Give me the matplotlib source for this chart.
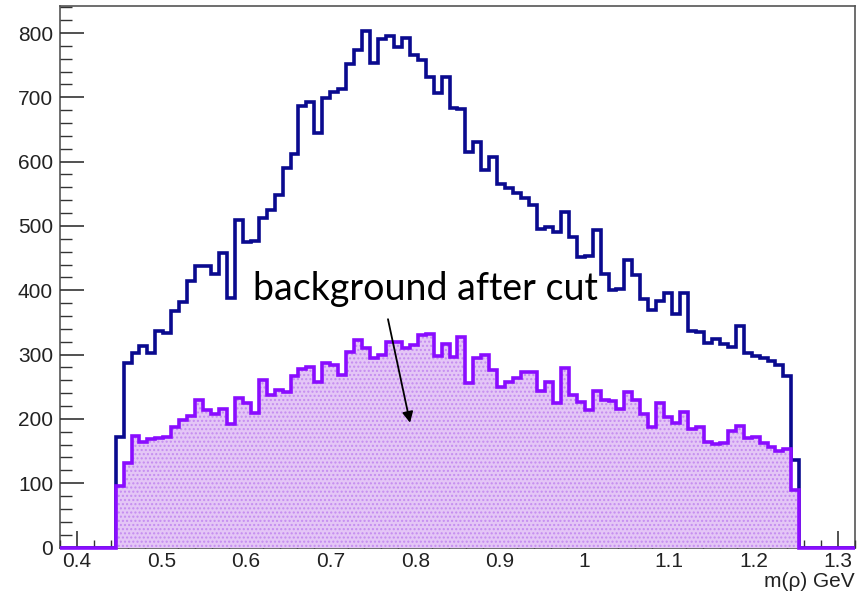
import matplotlib
matplotlib.use("Agg")
import matplotlib.pyplot as plt
import numpy as np

# histogram: 100 bins from 0.38 to 1.32 GeV
x_lo, x_hi, n_bins = 0.38, 1.32, 100

# all events (blue outline), non-empty bins only
total = [172, 287, 303, 313, 303, 336, 334, 367, 382, 415,
         437, 437, 426, 458, 388, 509, 475, 477, 512, 525,
         548, 590, 612, 687, 692, 645, 699, 709, 713, 752,
         773, 803, 754, 790, 795, 778, 792, 766, 758, 732,
         707, 732, 684, 682, 615, 630, 587, 607, 565, 559,
         551, 543, 532, 496, 499, 491, 522, 483, 452, 453,
         494, 425, 400, 402, 447, 424, 386, 369, 383, 396,
         363, 396, 337, 335, 318, 324, 317, 312, 344, 302,
         298, 294, 290, 283, 266, 136]

# background after cut (violet, filled)
background = [95, 131, 174, 164, 168, 170, 172, 188, 198, 205,
              229, 214, 208, 216, 192, 232, 224, 209, 260, 237,
              245, 242, 266, 277, 280, 258, 287, 284, 268, 304,
              323, 310, 294, 299, 320, 320, 310, 315, 330, 332,
              297, 317, 296, 327, 256, 295, 299, 276, 250, 258,
              263, 273, 273, 244, 258, 225, 279, 237, 226, 214,
              243, 230, 228, 215, 242, 230, 208, 188, 224, 203,
              193, 211, 185, 187, 164, 161, 162, 181, 189, 171,
              172, 162, 157, 150, 153, 89]

first_bin = 7  # empty bins before the filled range

edges = np.linspace(x_lo, x_hi, n_bins + 1)
h_total = np.zeros(n_bins)
h_bkg = np.zeros(n_bins)
h_total[first_bin:first_bin + len(total)] = total
h_bkg[first_bin:first_bin + len(background)] = background

plt.rcParams['font.family'] = ['Liberation Sans', 'DejaVu Sans']

fig = plt.figure(figsize=(8.63, 6.0), dpi=100)
ax = fig.add_axes([60 / 863, 52.5 / 600, 795 / 863, 541.5 / 600])

ax.stairs(h_total, edges, color='#0a0a8f', lw=2.6, zorder=2)
ax.stairs(h_bkg, edges, fill=True, facecolor='#e4c6f6', edgecolor='#c48cf0',
          hatch='....', lw=0, zorder=3)
ax.stairs(h_bkg, edges, color='#8a0cff', lw=2.6, zorder=4, clip_on=False)

ax.set_xlim(x_lo, x_hi)
ax.set_ylim(0, 842)

ax.set_xticks(np.arange(0.4, 1.31, 0.1))
ax.set_xticklabels(['0.4', '0.5', '0.6', '0.7', '0.8', '0.9', '1', '1.1', '1.2', '1.3'])
ax.set_xticks(np.arange(0.38, 1.321, 0.02), minor=True)
ax.set_yticks(np.arange(0, 801, 100))
ax.set_yticks(np.arange(0, 841, 20), minor=True)

ax.tick_params(axis='both', which='both', direction='in', colors='#333333',
               labelcolor='#222222', labelsize=15, top=False, right=False)
ax.tick_params(axis='y', which='major', length=17, width=1.2, pad=5)
ax.tick_params(axis='y', which='minor', length=8.5, width=1.0)
ax.tick_params(axis='x', which='major', length=12, width=1.2, pad=3)
ax.tick_params(axis='x', which='minor', length=6, width=1.0)
for s in ax.spines.values():
    s.set_color('#555555')
    s.set_linewidth(1.2)
    s.set_zorder(1)

ax.set_xlabel('m(ρ) GeV', fontsize=15, color='#222222', loc='right', labelpad=1)

ax.text(0.6083, 385, 'background after cut', family=['Lato', 'DejaVu Sans'],
        fontsize=27, color='black', zorder=7)
ax.annotate('', xy=(0.7939, 194), xytext=(0.7678, 355),
            arrowprops=dict(arrowstyle='-|>', color='black', lw=1.3,
                            mutation_scale=16, shrinkA=0, shrinkB=0),
            zorder=7)

fig.savefig('out.png', dpi=100)
